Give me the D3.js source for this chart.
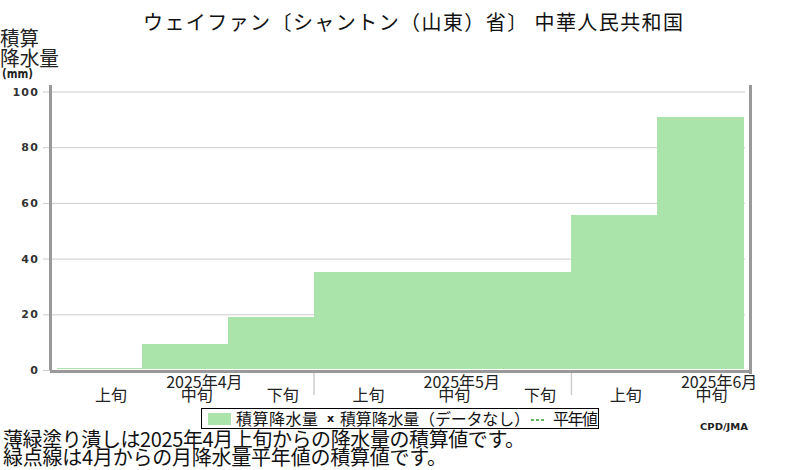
<!DOCTYPE html>
<html><head><meta charset="utf-8">
<script src="https://cdn.jsdelivr.net/npm/d3@7/dist/d3.min.js"></script>
<style>
body{margin:0;background:#fff;}
svg{display:block;}
.jp{font-family:"Noto Sans CJK JP","Noto Sans",sans-serif;}
</style></head>
<body>
<svg id="chart" width="800" height="470"></svg>
<script>
const titleText = "ウェイファン〔シャントン（山東）省〕 中華人民共和国";
const dekadLabels = ["上旬","中旬","下旬","上旬","中旬","下旬","上旬","中旬"];
const monthLabels = ["2025年4月","2025年5月","2025年6月"];
const monthCenterDekad = [1,4,7];
const monthStartDekad = [3,6];
const precip = [0.6, 9.4, 19.0, 35.3, 35.3, 35.3, 55.7, 90.8];
const yTicks = [0,20,40,60,80,100];
const footer1 = "薄緑塗り潰しは2025年4月上旬からの降水量の積算値です。";
const footer2 = "緑点線は4月からの月降水量平年値の積算値です。";

const svg = d3.select("#chart");
const barColor = "#abe4ab";
const axisGray = "#999999";
const gridGray = "#cccccc";

const x = d3.scaleBand().domain(d3.range(precip.length)).range([56.7, 743]).padding(0);
const y = d3.scaleLinear().domain([0,100]).range([370, 91.5]);

// grid + y labels
const gridX0 = 43, gridX1 = 745;
const yAxis = d3.axisLeft(y).tickValues(yTicks).tickSizeInner(-(gridX1-gridX0)).tickSizeOuter(0).tickPadding(4);
const gy = svg.append("g").attr("transform", `translate(${gridX0},0)`).call(yAxis);
gy.select(".domain").remove();
gy.selectAll(".tick line").attr("stroke", gridGray).attr("stroke-width", 1);
gy.selectAll(".tick text").attr("fill", "#333").attr("font-family", "DejaVu Sans").attr("font-weight", "bold")
  .attr("font-size", "11px").attr("letter-spacing", "1.2px");

// bars
svg.append("g").attr("shape-rendering", "crispEdges").selectAll("rect").data(precip).join("rect")
  .attr("x", (d,i) => x(i))
  .attr("width", x.bandwidth() + 0.5)
  .attr("y", d => y(d))
  .attr("height", d => Math.max(0, y(0) - 1 - y(d)))
  .attr("fill", barColor);

// frame
const frame = svg.append("g").attr("shape-rendering", "crispEdges");
frame.append("rect").attr("x", 49).attr("y", 85).attr("width", 3).attr("height", y(0) - 85).attr("fill", axisGray);
frame.append("rect").attr("x", 50).attr("y", y(0)).attr("width", 702).attr("height", 3).attr("fill", axisGray);
frame.append("rect").attr("x", 749).attr("y", 85).attr("width", 3).attr("height", 289).attr("fill", axisGray);

// month separators
svg.append("g").selectAll("line").data(monthStartDekad).join("line")
  .attr("x1", d => x(d)).attr("x2", d => x(d))
  .attr("y1", y(0) + 3).attr("y2", 395)
  .attr("stroke", gridGray).attr("stroke-width", 1.5);

// dekad labels
svg.append("g").selectAll("text").data(dekadLabels).join("text")
  .attr("class", "jp")
  .attr("x", (d,i) => x(i) + x.bandwidth()/2 + 11.5)
  .attr("y", 401)
  .attr("text-anchor", "middle")
  .attr("font-size", "16px").attr("fill", "#222")
  .text(d => d);

// month labels
svg.append("g").selectAll("text").data(monthLabels).join("text")
  .attr("class", "jp")
  .attr("x", (d,i) => x(monthCenterDekad[i]) + x.bandwidth()/2 + 19)
  .attr("y", 388)
  .attr("text-anchor", "middle")
  .attr("font-size", "16px").attr("fill", "#222")
  .text(d => d);

// title
svg.append("text").attr("class", "jp")
  .attr("x", 143).attr("y", 30)
  .attr("font-size", "20px").attr("fill", "#111")
  .attr("textLength", 540).attr("lengthAdjust", "spacing")
  .text(titleText);

// y title
svg.append("text").attr("class", "jp").attr("x", 0).attr("y", 46)
  .attr("font-size", "20px").attr("fill", "#222")
  .attr("textLength", 39).attr("lengthAdjust", "spacingAndGlyphs").text("積算");
svg.append("text").attr("class", "jp").attr("x", 0).attr("y", 66)
  .attr("font-size", "20px").attr("fill", "#222")
  .attr("textLength", 59).attr("lengthAdjust", "spacingAndGlyphs").text("降水量");
svg.append("text").attr("x", 2).attr("y", 78)
  .attr("font-family", "DejaVu Sans").attr("font-weight", "bold")
  .attr("font-size", "12px").attr("fill", "#222")
  .attr("textLength", 31).attr("lengthAdjust", "spacingAndGlyphs").text("(mm)");

// legend
const lg = svg.append("g");
lg.append("rect").attr("x", 201.5).attr("y", 408.5).attr("width", 397).attr("height", 20)
  .attr("fill", "#fff").attr("stroke", "#000").attr("stroke-width", 1);
lg.append("rect").attr("x", 208).attr("y", 413).attr("width", 23).attr("height", 12).attr("fill", barColor);
lg.append("text").attr("class", "jp").attr("x", 236).attr("y", 425).attr("font-size", "16px").attr("fill", "#111")
  .attr("textLength", 82).attr("lengthAdjust", "spacing").text("積算降水量");
lg.append("text").attr("x", 327).attr("y", 422).attr("font-family", "DejaVu Sans").attr("font-weight", "bold")
  .attr("font-size", "11px").attr("fill", "#111").text("x");
lg.append("text").attr("class", "jp").attr("x", 340).attr("y", 425).attr("font-size", "16px").attr("fill", "#111")
  .attr("textLength", 190).attr("lengthAdjust", "spacing").text("積算降水量（データなし）");
lg.append("line").attr("x1", 531).attr("x2", 546).attr("y1", 420).attr("y2", 420)
  .attr("stroke", "#2e9e2e").attr("stroke-width", 1.5).attr("stroke-dasharray", "3,2");
lg.append("text").attr("class", "jp").attr("x", 553).attr("y", 425).attr("font-size", "16px").attr("fill", "#111")
  .attr("textLength", 45).attr("lengthAdjust", "spacing").text("平年値");

// credit
svg.append("text").attr("x", 700).attr("y", 430)
  .attr("font-family", "DejaVu Sans").attr("font-weight", "bold")
  .attr("font-size", "9px").attr("fill", "#222")
  .attr("textLength", 48).attr("lengthAdjust", "spacingAndGlyphs").text("CPD/JMA");

// footers
svg.append("text").attr("class", "jp").attr("x", 3).attr("y", 447)
  .attr("font-size", "20px").attr("fill", "#111")
  .attr("textLength", 522).attr("lengthAdjust", "spacing").text(footer1);
svg.append("text").attr("class", "jp").attr("x", 3).attr("y", 465)
  .attr("font-size", "20px").attr("fill", "#111")
  .attr("textLength", 444).attr("lengthAdjust", "spacing").text(footer2);
</script>
</body></html>
